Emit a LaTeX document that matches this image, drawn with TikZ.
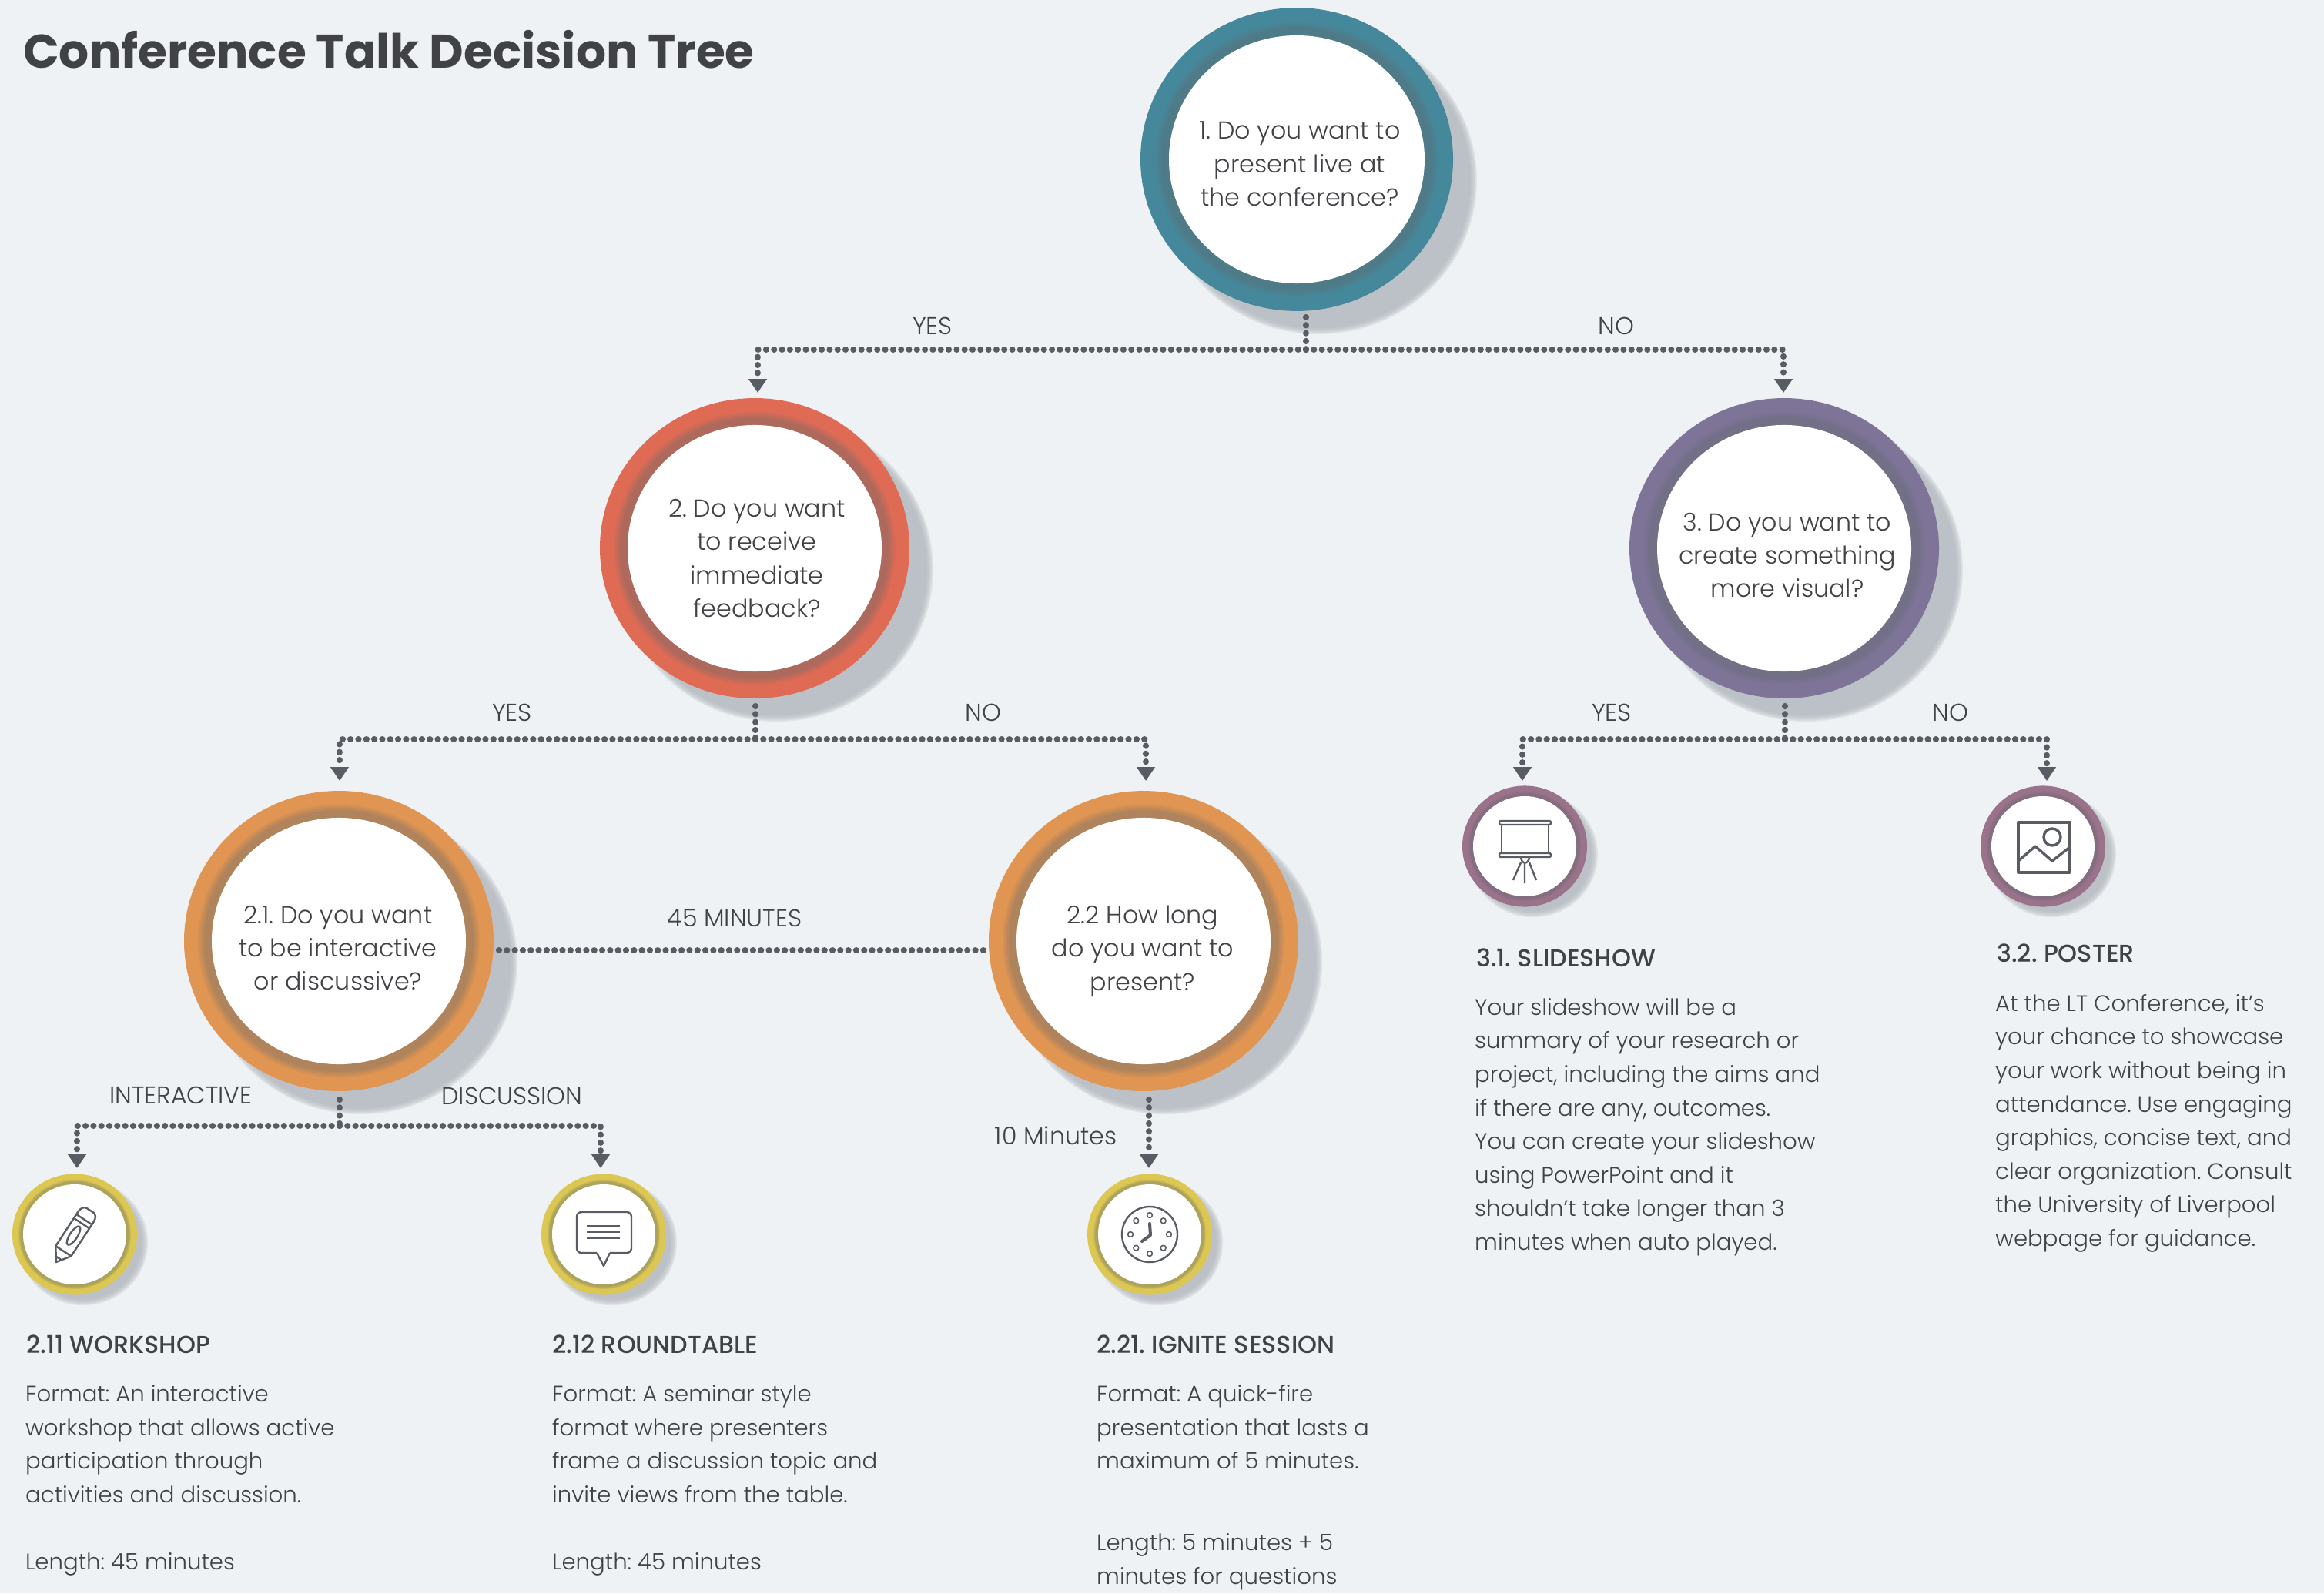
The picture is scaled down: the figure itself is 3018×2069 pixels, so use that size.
\documentclass[tikz,border=0pt]{standalone}
\usepackage{fontspec}
\setmainfont{Poppins}
\newfontfamily\plight{Poppins Light}
\newfontfamily\pmed{Poppins Medium}
\usetikzlibrary{arrows.meta}
\frenchspacing
\definecolor{bgc}{HTML}{EEF2F5}
\definecolor{shc}{HTML}{B4B9BF}
\definecolor{ink}{HTML}{404245}
\definecolor{linec}{HTML}{595D63}
\definecolor{teal1}{HTML}{45889B}
\definecolor{coral1}{HTML}{DF6B54}
\definecolor{purp1}{HTML}{7D7498}
\definecolor{orng1}{HTML}{E09552}
\definecolor{yell1}{HTML}{DCC752}
\definecolor{mauv1}{HTML}{9A728A}
\definecolor{darkmix}{HTML}{5F666C}
\tikzset{
  x=1pt,y=-1pt,
  dotline/.style={draw=linec,line width=8.2pt,line cap=round,dash pattern=on 0.01pt off 10.3pt},
  arr/.style={-{Triangle[length=18pt,width=23pt,fill=linec]}},
  qtext/.style={text=ink,align=center,inner sep=0pt,font=\frenchspacing\fontsize{31.8}{43.4}\selectfont\plight},
  lab/.style={text=ink,inner sep=0pt,font=\fontsize{31.6}{36}\selectfont\plight},
  headt/.style={text=ink,inner sep=0pt,anchor=base west,font=\frenchspacing\fontsize{31.8}{36}\selectfont\pmed},
  bodyt/.style={text=ink,inner sep=0pt,anchor=north west,align=left,font=\frenchspacing\fontsize{29.2}{43.6}\selectfont\plight},
  icon/.style={draw=linec,line width=2.4pt,line join=round},
  whitec/.style={circle,fill=white,inner sep=0pt,transform shape},
}
% name, x, y, outer R, white r, shadow offset, colour, ring width
\newcommand{\disc}[8]{%
  \begin{scope}[shift={(#2,#3)},yscale=.97]
    \foreach \k in {0,...,5}{\fill[shc,fill opacity=.25] (#6,#6) circle[radius=#4+3-\k*1.6];}
    \fill[#7] (0,0) circle[radius=#4];
    \foreach \k in {0,...,9}{%
      \pgfmathtruncatemacro{\pc}{100-min(\k*7.5,38)}%
      \fill[#7!\pc!darkmix] (0,0) circle[radius=#5+#8*(1-\k/10)];}
    \node[whitec,minimum size=2*#5 pt] (#1) at (0,0) {};
  \end{scope}
}
\begin{document}
\begin{tikzpicture}
\fill[bgc] (0,0) rectangle (3018,2069);
\useasboundingbox (0,0) rectangle (3018,2069);

\node[anchor=base west,inner sep=0pt,text=ink,font=\fontsize{61.4}{70}\selectfont\bfseries] (title) at (30,88) {Conference Talk Decision Tree};

% discs
\disc{c1}{1684}{207}{203}{166}{28}{teal1}{20}
\disc{c2}{980}{712}{201}{165}{28}{coral1}{20}
\disc{c3}{2317}{712}{201}{165}{28}{purp1}{20}
\disc{c21}{440}{1222}{201}{165}{28}{orng1}{20}
\disc{c22}{1485}{1222}{201}{165}{28}{orng1}{20}
\disc{c211}{97}{1603}{81}{67}{11}{yell1}{7}
\disc{c212}{784}{1603}{81}{67}{11}{yell1}{7}
\disc{c221}{1493}{1603}{81}{67}{11}{yell1}{7}
\disc{c31}{1980}{1099}{81}{67}{11}{mauv1}{7}
\disc{c32}{2653}{1099}{81}{67}{11}{mauv1}{7}

% question texts
\node[qtext] (q1) at (1688,213) {1. Do you want to\\present live at\\the conference?};
\node[qtext] (q2) at (983,725) {2. Do you want\\to receive\\immediate\\feedback?};
\node[qtext] (q3) at (2321,721) {3. Do you want to\\create something\\more visual?};
\node[qtext] (q21) at (439,1231) {2.1. Do you want\\to be interactive\\or discussive?};
\node[qtext] (q22) at (1484,1235) {2.2 How long\\do you want to\\present?};

% connector anchors
\coordinate (s1) at (1696,412);  \coordinate (j1) at (1696,454);
\coordinate (a2) at (984,510);   \coordinate (a3) at (2316,510);
\coordinate (s2) at (981,917);   \coordinate (j2) at (981,960);
\coordinate (a21) at (441,1014); \coordinate (a22) at (1488,1014);
\coordinate (s3) at (2318,917);  \coordinate (j3) at (2318,960);
\coordinate (a31) at (1977,1014);\coordinate (a32) at (2658,1014);
\coordinate (s21) at (441,1428); \coordinate (j21) at (441,1462);
\coordinate (a211) at (100,1517);\coordinate (a212) at (780,1517);
\coordinate (s22) at (1492,1428);\coordinate (a221) at (1492,1517);
\coordinate (h1) at (648,1234);  \coordinate (h2) at (1281,1234);

\draw[dotline] (s1) -- (j1);
\draw[dotline,arr] (j1) -| (a2);
\draw[dotline,arr] (j1) -| (a3);
\draw[dotline] (s2) -- (j2);
\draw[dotline,arr] (j2) -| (a21);
\draw[dotline,arr] (j2) -| (a22);
\draw[dotline] (s3) -- (j3);
\draw[dotline,arr] (j3) -| (a31);
\draw[dotline,arr] (j3) -| (a32);
\draw[dotline] (s21) -- (j21);
\draw[dotline,arr] (j21) -| (a211);
\draw[dotline,arr] (j21) -| (a212);
\draw[dotline,arr] (s22) -- (a221);
\draw[dotline] (h1) -- (h2);

% connector labels
\node[lab] (l1) at (1211,423) {YES};
\node[lab] (l2) at (2099,423) {NO};
\node[lab] (l3) at (665,925) {YES};
\node[lab] (l4) at (1277,925) {NO};
\node[lab] (l5) at (2093,925) {YES};
\node[lab] (l6) at (2533,925) {NO};
\node[lab] (l7) at (954,1192) {45 MINUTES};
\node[lab] (l8) at (235,1422) {INTERACTIVE};
\node[lab] (l9) at (665,1423) {DISCUSSION};
\node[lab] (l10) at (1371,1475) {10 Minutes};

% icons
\begin{scope}[shift={(73,1639)},x={(0.55pt,0.84pt)},y={(0.84pt,-0.55pt)}]
  \draw[icon] (0,0) -- (17,12) -- (70,12) .. controls (76,12) and (80,9) .. (80,5) -- (80,-5) .. controls (80,-9) and (76,-12) .. (70,-12) -- (17,-12) -- cycle;
  \draw[icon] (17,12) -- (17,-12) (6,4) -- (6,-4) (60,12) -- (60,-12) (66,12) -- (66,-12);
  \draw[icon] (41,0) ellipse[x radius=14,y radius=5];
\end{scope}
\draw[icon,rounded corners=6pt] (775,1627) -- (749,1627) -- (749,1574) -- (820,1574) -- (820,1627) -- (792,1627);
\draw[icon] (775,1627) -- (784,1644) -- (792,1627);
\draw[icon,line width=1.8pt] (762,1592) -- (805,1592) (762,1600) -- (805,1600) (762,1608) -- (805,1608);
\draw[icon] (1493,1603) circle[radius=36];
\foreach \a in {0,45,...,315}{\draw[icon,line width=1.6pt] (1493,1603) ++(\a:25) circle[radius=3.4];}
\draw[linec,line width=4pt,line cap=round,line join=round] (1493,1589) -- (1494,1604) -- (1483,1612);
\draw[icon,rounded corners=2pt] (1947,1066) rectangle (2014,1071);
\draw[icon,rounded corners=2pt] (1947,1108) rectangle (2014,1113);
\draw[icon] (1950,1071) -- (1950,1108) (2011,1071) -- (2011,1108);
\draw[icon] (1975,1113) .. controls (1976,1123) and (1985,1123) .. (1986,1113);
\draw[icon] (1975,1120) -- (1965,1143) (1986,1120) -- (1995,1143) (1980,1121) -- (1980,1147);
\draw[icon,line width=3.4pt] (2621,1068) rectangle (2688,1133);
\draw[icon,line width=3.4pt] (2665,1087) circle[radius=11];
\draw[icon,line width=3.4pt] (2621,1118) -- (2643,1099) -- (2665,1118) -- (2688,1100);

% headings and descriptions
\node[headt] (h211) at (34,1757) {2.11 WORKSHOP};
\node[bodyt] (b211) at (33,1796.5) {\rule{0pt}{24pt}Format: An interactive\\workshop that allows active\\participation through\\activities and discussion.\\[43.6pt]Length: 45 minutes};
\node[headt] (h212) at (717,1757) {2.12 ROUNDTABLE};
\node[bodyt] (b212) at (717,1796.5) {\rule{0pt}{24pt}Format: A seminar style\\format where presenters\\frame a discussion topic and\\invite views from the table.\\[43.6pt]Length: 45 minutes};
\node[headt] (h221) at (1424,1757) {2.21. IGNITE SESSION};
\node[bodyt] (b221) at (1424,1796.5) {\rule{0pt}{24pt}Format: A quick-fire\\presentation that lasts a\\maximum of 5 minutes.\\[62pt]Length: 5 minutes + 5\\minutes for questions};
\node[headt] (h31) at (1917,1255) {3.1. SLIDESHOW};
\node[bodyt] (b31) at (1915,1294) {\rule{0pt}{24pt}Your slideshow will be a\\summary of your research or\\project, including the aims and\\if there are any, outcomes.\\You can create your slideshow\\using PowerPoint and it\\shouldn’t take longer than 3\\minutes when auto played.};
\node[headt] (h32) at (2593,1249) {3.2. POSTER};
\node[bodyt] (b32) at (2591,1289) {\rule{0pt}{24pt}At the LT Conference, it’s\\your chance to showcase\\your work without being in\\attendance. Use engaging\\graphics, concise text, and\\clear organization. Consult\\the University of Liverpool\\webpage for guidance.};
\end{tikzpicture}
\end{document}
